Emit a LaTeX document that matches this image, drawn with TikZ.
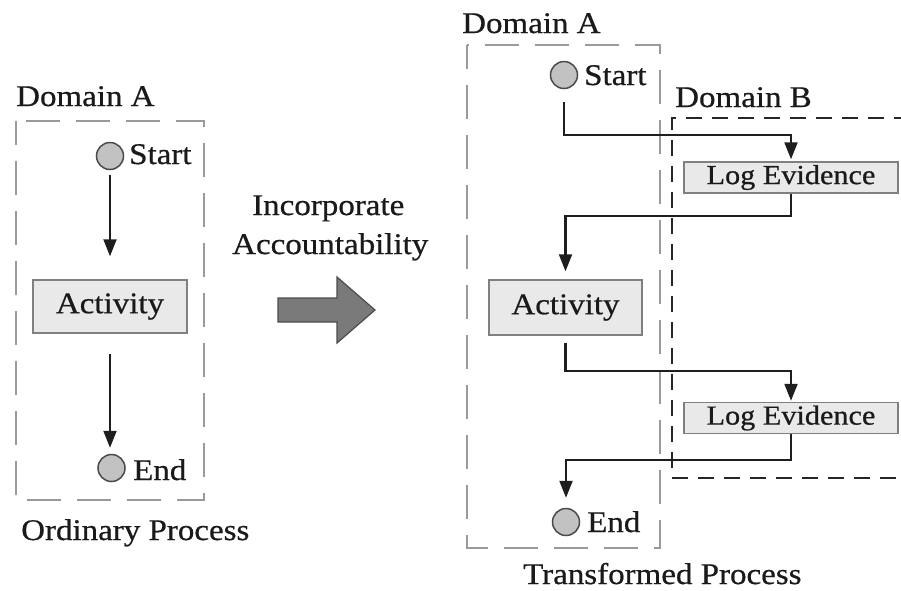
\documentclass[tikz,border=0pt]{standalone}
\usepackage{fontspec}
\setmainfont{Liberation Serif}[FakeStretch=1.1,FakeBold=0.6]
\usetikzlibrary{arrows.meta}
\definecolor{txt}{HTML}{1A1A1A}
\definecolor{boxfill}{HTML}{E9E9E9}
\definecolor{boxline}{HTML}{808080}
\definecolor{circfill}{HTML}{C2C2C2}
\definecolor{circline}{HTML}{4A4A4A}
\definecolor{domA}{HTML}{9A9A9A}
\definecolor{domB}{HTML}{262626}
\definecolor{conncol}{HTML}{1E1E1E}
\definecolor{bigarrow}{HTML}{7A7A7A}
\begin{document}
\begin{tikzpicture}[x=1pt,y=-1pt,
  lbl/.style={font=\fontsize{30}{36}\selectfont, text=txt, inner sep=0pt, anchor=base west},
  actbox/.style={draw=boxline, fill=boxfill, line width=1.5pt, inner sep=0pt,
     font=\fontsize{30}{36}\selectfont, text=txt},
  logbox/.style={draw=boxline, fill=boxfill, line width=1.5pt, inner sep=0pt,
     minimum width=214pt, minimum height=31pt, font=\fontsize{27.5}{32}\selectfont, text=txt},
  evt/.style={circle, draw=circline, fill=circfill, line width=1.5pt, minimum size=27pt, inner sep=0pt},
  domainA/.style={draw=domA, line width=2pt, dash pattern=on 34pt off 16pt},
  domainB/.style={draw=domB, line width=2.5pt, dash pattern=on 16pt off 10pt},
  conn/.style={draw=conncol, line width=2.1pt, -{Triangle[length=17pt,width=13pt]}},
]
\useasboundingbox[fill=white] (0,0) rectangle (901,590);

% ---------- Left: ordinary process ----------
\node[lbl] (domA1) at (16,106) {Domain A};
\draw[domainA, dash phase=10pt] (16,121) rectangle (204,500);
\node[evt] (s1) at (110,156) {};
\node[lbl] (s1t) at (129,164) {Start};
\node[actbox, minimum width=154pt, minimum height=53pt] (a1) at (110,306.5) {Activity};
\node[evt] (e1) at (111.5,468) {};
\node[lbl] (e1t) at (133,480) {End};
\node[lbl] (op) at (21,540) {Ordinary Process};
\draw[conn, shorten <=5pt, shorten >=23pt] (s1.south) -- (a1.north -| s1.south);
\draw[conn, shorten <=20pt, shorten >=6pt] (a1.south) -- (e1.north -| a1.south);

% ---------- Middle ----------
\node[lbl] (inc) at (252,215) {Incorporate};
\node[lbl] (acc) at (232,254) {Accountability};
\draw[draw=black!70, fill=bigarrow, line width=1.2pt]
  (278,298) -- (337,298) -- (337,277) -- (375,310) -- (337,343) -- (337,322) -- (278,322) -- cycle;

% ---------- Right: transformed process ----------
\node[lbl] (domA2) at (462,33) {Domain A};
\draw[domainA, dash phase=10pt] (467,45) rectangle (660,548);
\node[lbl] (domB) at (675,107) {Domain B};
\draw[domainB] (910,118) -- (672,118) -- (672,478) -- (910,478);

\node[evt] (s2) at (564,75) {};
\node[lbl] (s2t) at (584,85) {Start};
\node[logbox] (le1) at (791,177.5) {Log Evidence};
\node[actbox, minimum width=153pt, minimum height=55pt] (a2) at (565.5,307.5) {Activity};
\node[logbox] (le2) at (791,418) {Log Evidence};
\node[evt] (e2) at (566,522) {};
\node[lbl] (e2t) at (587,532) {End};
\node[lbl] (tp) at (523,584) {Transformed Process};

\draw[conn, shorten <=13pt, shorten >=2pt] (s2.south) -- ++(0,46) -| (le1.north);
\draw[conn, shorten >=8pt] (le1.south) -- ++(0,22) -| (a2.north);
\draw[conn, shorten <=7pt, shorten >=1pt] (a2.south) -- ++(0,35) -| (le2.north);
\draw[conn, shorten >=10pt] (le2.south) -- ++(0,26) -| (e2.north);
\end{tikzpicture}
\end{document}
